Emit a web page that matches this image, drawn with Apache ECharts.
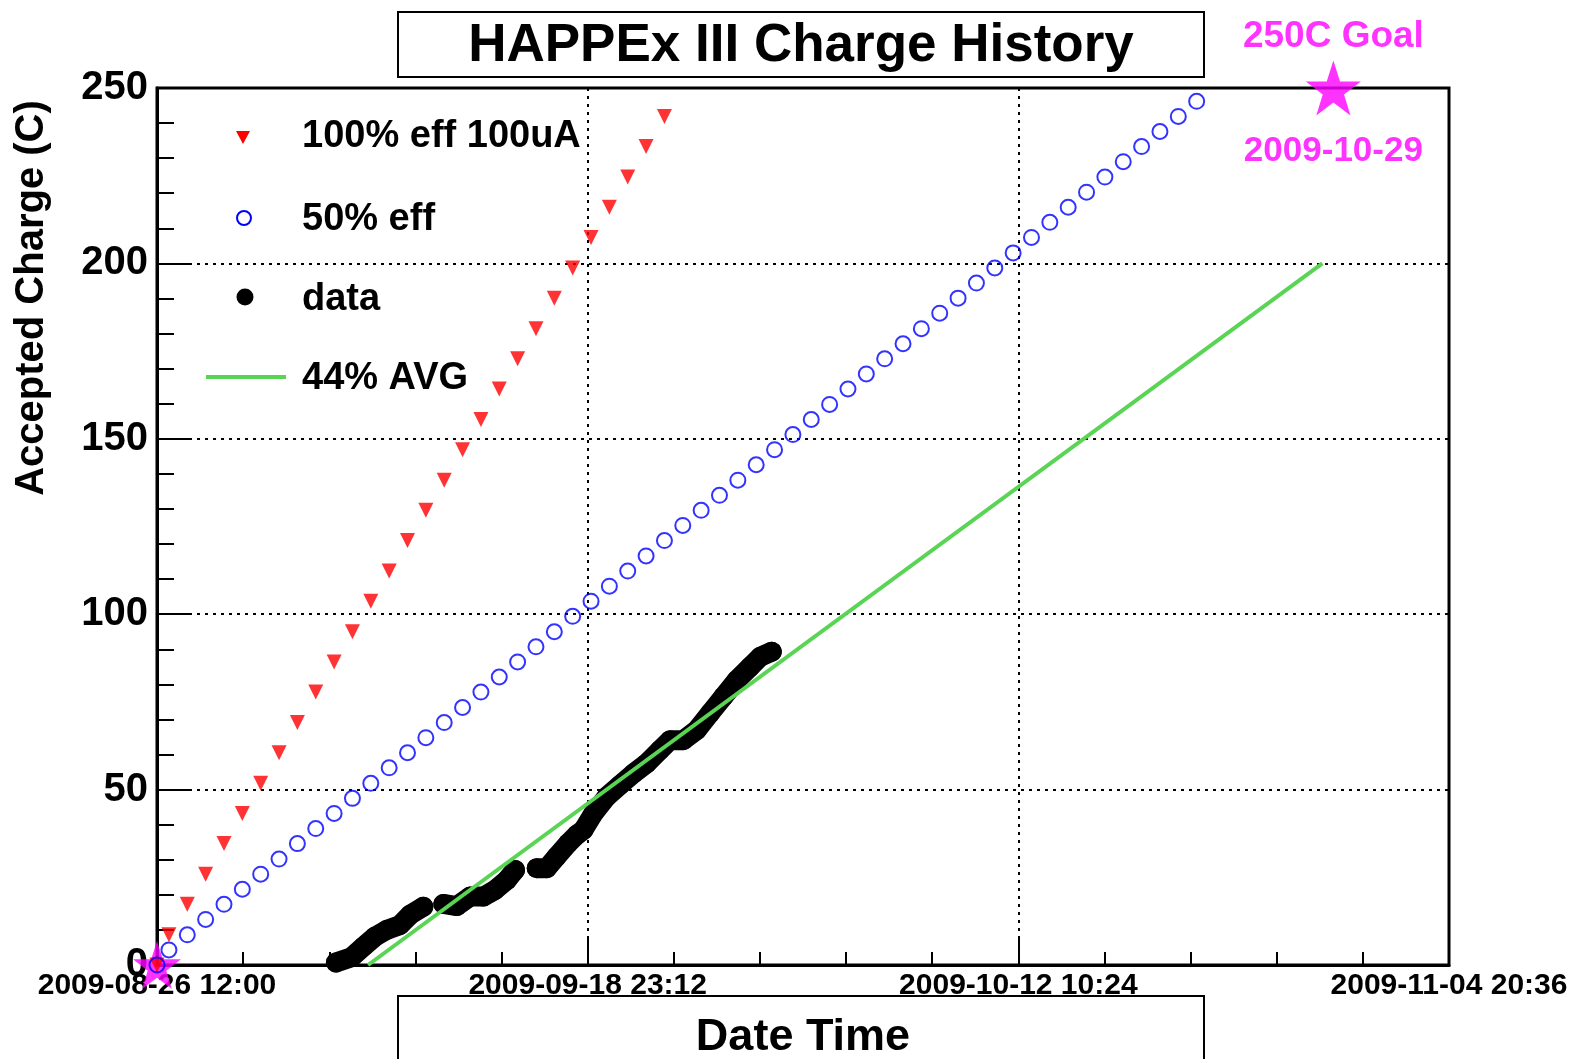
<!DOCTYPE html>
<html>
<head>
<meta charset="utf-8">
<title>HAPPEx III Charge History</title>
<script src="https://cdn.jsdelivr.net/npm/echarts@6/dist/echarts.min.js"></script>
<style>
    html, body { margin: 0; padding: 0; background: #fff; }
    #chart { width: 1573px; height: 1059px; }
</style>
</head>
<body>
<div id="chart"></div>
<script type="text/javascript">
    // x values are days after 2009-08-26 12:00
    var xTickLabels = ['2009-08-26 12:00', '2009-09-18 23:12', '2009-10-12 10:24', '2009-11-04 20:36'];
    var xMaxDays = 70.4;

    // projections (one point per day)
    var effDays = [0, 0.65, 1.65, 2.65, 3.65, 4.65, 5.65, 6.65, 7.65, 8.65, 9.65, 10.65, 11.65, 12.65, 13.65,
        14.65, 15.65, 16.65, 17.65, 18.65, 19.65, 20.65, 21.65, 22.65, 23.65, 24.65, 25.65, 26.65, 27.65,
        28.65, 29.65, 30.65, 31.65, 32.65, 33.65, 34.65, 35.65, 36.65, 37.65, 38.65, 39.65, 40.65, 41.65,
        42.65, 43.65, 44.65, 45.65, 46.65, 47.65, 48.65, 49.65, 50.65, 51.65, 52.65, 53.65, 54.65, 55.65, 56.65];
    var eff100 = [0, 8.6, 17.3, 25.9, 34.6, 43.2, 51.8, 60.5, 69.1, 77.8, 86.4, 95.0, 103.7, 112.3, 121.0,
        129.6, 138.2, 146.9, 155.5, 164.2, 172.8, 181.4, 190.1, 198.7, 207.4, 216.0, 224.6, 233.3, 241.9];
    var eff50 = [0, 4.3, 8.6, 13.0, 17.3, 21.6, 25.9, 30.2, 34.6, 38.9,
        43.2, 47.5, 51.8, 56.2, 60.5, 64.8, 69.1, 73.4, 77.8, 82.1,
        86.4, 90.7, 95.0, 99.4, 103.7, 108.0, 112.3, 116.6, 121.0, 125.3,
        129.6, 133.9, 138.2, 142.6, 146.9, 151.2, 155.5, 159.8, 164.2, 168.5,
        172.8, 177.1, 181.4, 185.8, 190.1, 194.4, 198.7, 203.0, 207.4, 211.7,
        216.0, 220.3, 224.6, 229.0, 233.3, 237.6, 241.9, 246.2];

    // measured charge (null = gap)
    var dataDays = [9.75, 10.6, 11.24, 11.88, 12.52, 13.24, 13.79, 14.51, null,
        15.6, 16.33, 17.06, 17.78, 18.42, 19.06, 19.51, null,
        20.69, 21.24, 21.78, 22.41, 22.87, 23.23, 23.78, 24.51, 25.23, 25.96, 26.69, 27.41,
        27.96, 28.68, 29.41, 30.14, 30.86, 31.59, 32.32, 32.86, 33.5];
    var dataCharge = [0.7, 2.2, 5.2, 8.1, 10.0, 11.4, 14.3, 16.6, null,
        17.4, 16.8, 19.5, 19.5, 21.4, 24.2, 27.1, null,
        27.6, 27.6, 30.9, 34.7, 37.1, 38.5, 43.2, 48.0, 51.3, 54.6, 57.5, 61.3,
        64.1, 64.1, 67.0, 71.8, 76.5, 81.2, 85.0, 87.8, 89.3];

    // 44% average
    var avgDays = [11.5, 63.5];
    var avgCharge = [0, 200];

    // start and goal stars
    var startDays = [0];
    var startCharge = [0];
    var goalDays = [64.1];
    var goalCharge = [250];
    var goalText = ['250C Goal', '2009-10-29'];

    var legendNames = ['100% eff 100uA', '50% eff', 'data', '44% AVG'];

    var MIN_PER_DAY = 1440;
    var xInterval = xMaxDays * MIN_PER_DAY / 3;
    var FONT = 'Liberation Sans, Arial, Helvetica, sans-serif';
    var STAR = 'path://M50,0 L61.8,35.1 L98.8,35.1 L68.9,57 L80.3,92.1 L50,70.4 L19.7,92.1 L31.1,57 L1.2,35.1 L38.2,35.1 Z';

    function pairs(days, vals) {
        var out = [];
        for (var i = 0; i < vals.length; i++) {
            if (days[i] === null) {
                out.push(['-', '-']);
            } else {
                out.push([days[i] * MIN_PER_DAY, vals[i]]);
            }
        }
        return out;
    }

    // legend drawn as plain graphics (ROOT style, no box)
    function legendText(name, y) {
        return {
            type: 'text', x: 302, y: y,
            style: {
                text: name, fill: '#000', font: 'bold 38px ' + FONT,
                textAlign: 'left', textVerticalAlign: 'middle', align: 'left', verticalAlign: 'middle'
            }
        };
    }

    var legendGraphics = [
        {type: 'polygon', shape: {points: [[236, 131], [250, 131], [243, 144]]}, style: {fill: '#ff0000'}},
        legendText(legendNames[0], 137),
        {type: 'circle', shape: {cx: 244, cy: 218, r: 7}, style: {fill: 'none', stroke: '#0000ff', lineWidth: 2}},
        legendText(legendNames[1], 220),
        {type: 'circle', shape: {cx: 245, cy: 297, r: 8.5}, style: {fill: '#000'}},
        legendText(legendNames[2], 300),
        {type: 'line', shape: {x1: 206, y1: 377, x2: 286, y2: 377}, style: {stroke: '#59d454', lineWidth: 4}},
        legendText(legendNames[3], 379)
    ];

    var myChart = echarts.init(document.getElementById('chart'), null, {renderer: 'canvas'});

    var option = {
        backgroundColor: '#fff',
        animation: false,
        title: {
            text: 'HAPPEx III Charge History',
            left: 801,
            top: 20,
            padding: 0,
            textAlign: 'center',
            textStyle: {fontSize: 53, fontWeight: 'bold', color: '#000', fontFamily: FONT}
        },
        grid: {
            left: 157, right: 124, top: 88, bottom: 94,
            show: true, borderColor: '#000', borderWidth: 3,
            containLabel: false,
            outerBoundsMode: 'none'
        },
        xAxis: {
            type: 'value',
            min: 0,
            max: xMaxDays * MIN_PER_DAY,
            interval: xInterval,
            name: 'Date Time',
            nameLocation: 'middle',
            nameGap: 50,
            nameTextStyle: {fontSize: 45, fontWeight: 'bold', color: '#000', fontFamily: FONT},
            axisLine: {show: true, lineStyle: {color: '#000', width: 3}},
            axisTick: {show: true, inside: true, length: 27, lineStyle: {color: '#000', width: 2}},
            minorTick: {show: true, splitNumber: 5, length: 13, lineStyle: {color: '#000', width: 2}},
            splitLine: {show: true, lineStyle: {color: '#000', width: 2, type: [3, 5]}},
            axisLabel: {
                show: true,
                margin: 6,
                fontSize: 30,
                fontWeight: 'bold',
                color: '#000',
                fontFamily: FONT,
                showMinLabel: true,
                showMaxLabel: true,
                hideOverlap: false,
                formatter: function (v) {
                    return xTickLabels[Math.round(v / xInterval)];
                }
            }
        },
        yAxis: {
            type: 'value',
            min: 0,
            max: 250,
            interval: 50,
            axisLine: {show: true, lineStyle: {color: '#000', width: 3}},
            axisTick: {show: true, inside: true, length: 35, lineStyle: {color: '#000', width: 2}},
            minorTick: {show: true, splitNumber: 5, length: 17, lineStyle: {color: '#000', width: 2}},
            splitLine: {show: true, lineStyle: {color: '#000', width: 2, type: [3, 5]}},
            axisLabel: {margin: 9, fontSize: 40, fontWeight: 'bold', color: '#000', fontFamily: FONT}
        },
        graphic: [
            {type: 'rect', shape: {x: 398, y: 12, width: 806, height: 65}, style: {fill: 'none', stroke: '#000', lineWidth: 2}},
            {type: 'rect', shape: {x: 398, y: 996, width: 806, height: 100}, style: {fill: 'none', stroke: '#000', lineWidth: 2}},
            {
                type: 'text', x: 32, y: 298, rotation: Math.PI / 2,
                style: {
                    text: 'Accepted Charge (C)', fill: '#000',
                    font: 'bold 40px ' + FONT,
                    textAlign: 'center', textVerticalAlign: 'middle',
                    align: 'center', verticalAlign: 'middle'
                }
            }
        ].concat(legendGraphics),
        series: [
            {
                name: 'start',
                type: 'scatter',
                clip: false,
                z: 1,
                symbol: STAR,
                symbolSize: 48,
                itemStyle: {color: '#ff00ff'},
                data: pairs(startDays, startCharge)
            },
            {
                name: 'goal',
                type: 'scatter',
                clip: false,
                z: 1,
                symbol: STAR,
                symbolSize: 55,
                itemStyle: {color: '#ff00ff'},
                label: {
                    show: true,
                    position: 'inside',
                    offset: [0, 6],
                    formatter: '{a|' + goalText[0] + '}\n{gap| }\n{b|' + goalText[1] + '}',
                    rich: {
                        a: {fontSize: 37, lineHeight: 40, fontWeight: 'bold', color: '#ff00ff', fontFamily: FONT},
                        gap: {fontSize: 10, lineHeight: 75},
                        b: {fontSize: 35, lineHeight: 40, fontWeight: 'bold', color: '#ff00ff', fontFamily: FONT}
                    }
                },
                data: pairs(goalDays, goalCharge)
            },
            {
                name: legendNames[0],
                type: 'scatter',
                clip: false,
                z: 3,
                symbol: 'triangle',
                symbolRotate: 180,
                symbolSize: 15,
                itemStyle: {color: '#ff0000'},
                data: pairs(effDays.slice(0, eff100.length), eff100)
            },
            {
                name: legendNames[1],
                type: 'scatter',
                clip: false,
                z: 4,
                symbol: 'circle',
                symbolSize: 15,
                itemStyle: {color: 'rgba(0,0,0,0)', borderColor: '#0000ff', borderWidth: 2},
                data: pairs(effDays, eff50)
            },
            {
                name: legendNames[2],
                type: 'line',
                z: 5,
                connectNulls: false,
                symbol: 'circle',
                symbolSize: 20,
                showSymbol: true,
                showAllSymbol: true,
                itemStyle: {color: '#000'},
                lineStyle: {color: '#000', width: 20, cap: 'round', join: 'round'},
                data: pairs(dataDays, dataCharge)
            },
            {
                name: legendNames[3],
                type: 'line',
                z: 6,
                symbol: 'none',
                itemStyle: {color: '#59d454'},
                lineStyle: {color: '#59d454', width: 4},
                data: pairs(avgDays, avgCharge)
            }
        ]
    };

    myChart.setOption(option);
</script>
</body>
</html>
